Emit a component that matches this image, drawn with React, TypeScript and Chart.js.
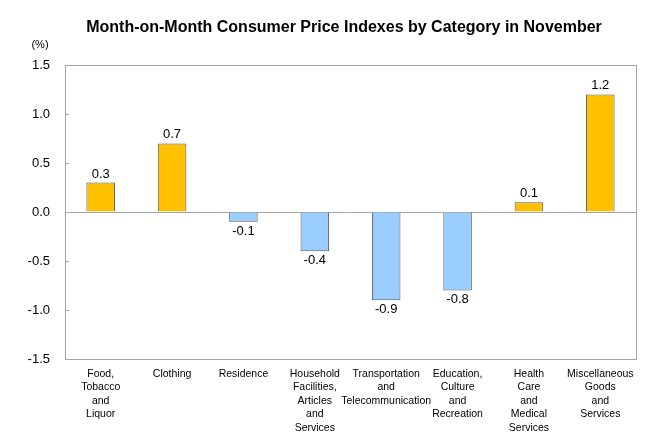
import React, { useEffect, useRef } from "react";
import { Chart, registerables } from "chart.js";

Chart.register(...registerables);

const categories: string[][] = [
  ["Food,", "Tobacco", "and", "Liquor"],
  ["Clothing"],
  ["Residence"],
  ["Household", "Facilities,", "Articles", "and", "Services"],
  ["Transportation", "and", "Telecommunication"],
  ["Education,", "Culture", "and", "Recreation"],
  ["Health", "Care", "and", "Medical", "Services"],
  ["Miscellaneous", "Goods", "and", "Services"],
];
const values: number[] = [0.3, 0.7, -0.1, -0.4, -0.9, -0.8, 0.1, 1.2];
const yTicks: number[] = [-1.5, -1.0, -0.5, 0.0, 0.5, 1.0, 1.5];
const titleText = "Month-on-Month Consumer Price Indexes by Category in November";
const unitText = "(%)";

const FONT = "'Liberation Sans', Arial, sans-serif";

const decorPlugin = {
  id: "decor",
  afterDatasetsDraw(chart: any) {
    const { ctx, chartArea } = chart;
    const ys = chart.scales.y;
    ctx.save();
    // border box
    ctx.strokeStyle = "#a6a6a6";
    ctx.lineWidth = 1;
    ctx.strokeRect(
      Math.round(chartArea.left) + 0.5,
      Math.round(chartArea.top) + 0.5,
      Math.round(chartArea.right - chartArea.left),
      Math.round(chartArea.bottom - chartArea.top)
    );
    // inward ticks
    yTicks.forEach((v) => {
      const py = Math.round(ys.getPixelForValue(v)) + 0.5;
      ctx.beginPath();
      ctx.moveTo(chartArea.left, py);
      ctx.lineTo(chartArea.left + 4, py);
      ctx.stroke();
    });
    // data labels
    ctx.fillStyle = "#000";
    ctx.font = `13px ${FONT}`;
    ctx.textAlign = "center";
    const meta = chart.getDatasetMeta(0);
    meta.data.forEach((bar: any, i: number) => {
      const v = values[i];
      if (v >= 0) {
        ctx.textBaseline = "bottom";
        ctx.fillText(v.toFixed(1), bar.x, bar.y - 2);
      } else {
        ctx.textBaseline = "top";
        ctx.fillText(v.toFixed(1), bar.x, bar.y + 3);
      }
    });
    // title
    ctx.font = `bold 16px ${FONT}`;
    ctx.textBaseline = "middle";
    ctx.fillText(titleText, 344, 28);
    ctx.font = `11px ${FONT}`;
    ctx.fillText(unitText, 40, 45);
    ctx.restore();
  },
};

export default function App() {
  const ref = useRef<HTMLCanvasElement | null>(null);
  useEffect(() => {
    document.body.style.margin = "0";
    if (!ref.current) return;
    const chart = new Chart(ref.current, {
      type: "bar",
      data: {
        labels: categories,
        datasets: [
          {
            data: values,
            backgroundColor: values.map((v) => (v >= 0 ? "#FFC000" : "#99CCFF")),
            borderColor: "#595959",
            borderWidth: 1,
            barPercentage: 0.4,
            categoryPercentage: 1,
          },
        ],
      },
      options: {
        animation: false,
        responsive: false,
        devicePixelRatio: 1,
        layout: { padding: { top: 65, right: 24, left: 0, bottom: 0 } },
        plugins: { legend: { display: false }, tooltip: { enabled: false }, title: { display: false } },
        scales: {
          x: {
            grid: { display: false, drawTicks: false },
            border: { display: false },
            ticks: {
              color: "#000",
              font: { family: FONT, size: 10.5, lineHeight: "13.5px" },
              padding: 8,
              maxRotation: 0,
              autoSkip: false,
            },
            afterFit(scale: any) {
              scale.height = 81;
            },
          },
          y: {
            min: -1.5,
            max: 1.5,
            afterBuildTicks(scale: any) {
              scale.ticks = yTicks.map((v) => ({ value: v }));
            },
            grid: {
              drawTicks: false,
              color: (c: any) => (c.tick && c.tick.value === 0 ? "#a6a6a6" : "rgba(0,0,0,0)"),
            },
            border: { display: false },
            ticks: {
              color: "#000",
              font: { family: FONT, size: 13 },
              padding: 15,
              callback: (v: any) => Number(v).toFixed(1),
            },
            afterFit(scale: any) {
              scale.width = 65;
            },
          },
        },
      },
      plugins: [decorPlugin],
    });
    return () => chart.destroy();
  }, []);
  return (
    <div style={{ width: 660, height: 440 }}>
      <canvas ref={ref} width={660} height={440} style={{ display: "block" }} />
    </div>
  );
}
